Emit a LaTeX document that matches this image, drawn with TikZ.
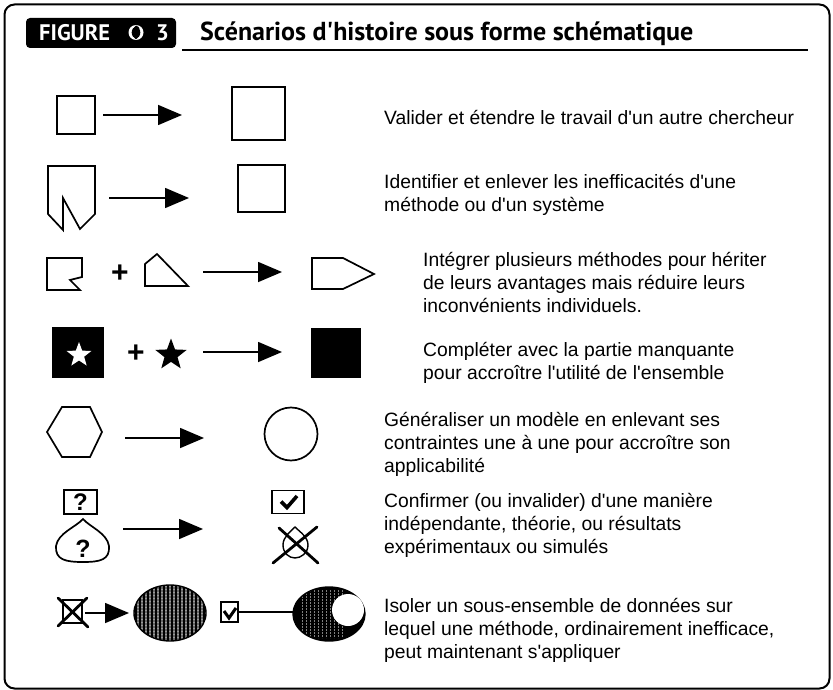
\documentclass[tikz,border=0pt]{standalone}
\usepackage{fontspec}
\setmainfont{Liberation Sans}
\newfontfamily\headfont{PT Sans}
\usetikzlibrary{arrows.meta,shapes.geometric}
% a block of lines whose reference point is the first baseline
\newcommand{\lines}[1]{\begin{tabular}[t]{@{}l@{}}#1\end{tabular}}

\begin{document}
\begin{tikzpicture}[x=1pt,y=-1pt,
  outline/.style={draw=black,line width=1.7pt,line join=miter},
  link/.style={line width=1.6pt,-{Triangle[length=24pt,width=20pt]}},
  caption/.style={anchor=base west,inner sep=0pt,
    font=\fontsize{19.3}{23}\selectfont},
  sign/.style={inner sep=0pt,font=\bfseries\fontsize{30}{30}\selectfont},
  qmark/.style={inner sep=0pt,font=\bfseries\fontsize{25}{25}\selectfont},
  tick/.style={line width=3.6pt,line cap=butt,line join=miter},
  cross/.style={line width=2.8pt,line cap=round},
  headtext/.style={anchor=base west,inner sep=0pt,text=white,
    font=\headfont\bfseries\fontsize{22.5}{24}\selectfont}]

\useasboundingbox (0,0) rectangle (833,690);

% outer frame
\draw[line width=2pt,rounded corners=10pt] (4.5,4.5) rectangle (829.5,688.5);

% heading
\fill[black,rounded corners=4pt] (26,18) rectangle (176,48);
\node[headtext] (figword) at (39,40.5) {FIGURE};
\fill[white] (136,32.5) circle (7.5);
\fill[black] (136,32.5) .. controls (140.5,28) and (140.5,37) .. (136,39.5)
  .. controls (131.5,37) and (131.5,28) .. (136,25.5)
  .. controls (140.5,28) .. cycle;
\fill[black] (136,32.5) ellipse (4.3 and 5.8);
\node[headtext] (fignum) at (156,40.5) {3};
\node[anchor=base west,inner sep=0pt,font=\headfont\bfseries\fontsize{26}{28}\selectfont]
  (title) at (200,41) {Scénarios d\textquotesingle histoire sous forme schématique};
\draw[line width=1.5pt] (182,50) -- (808,50);

% row 1: square -> bigger square
\draw[outline] (57,96) rectangle (95,134);
\coordinate (a1s) at (103,115); \coordinate (a1e) at (182,115);
\draw[link] (a1s) -- (a1e);
\draw[outline] (232,87) rectangle (285,140);
\node[caption] (t1) at (384,125)
  {Valider et étendre le travail d\textquotesingle un autre chercheur};

% row 2: notched shape -> square
\draw[outline] (48,166) -- (95,166) -- (95,214) -- (80,229) -- (63,198)
  -- (63,230) -- (48,214) -- cycle;
\coordinate (a2s) at (109,198); \coordinate (a2e) at (189,198);
\draw[link] (a2s) -- (a2e);
\draw[outline] (238,165) rectangle (285,212);
\node[caption] (t2) at (384,189)
  {\lines{Identifier et enlever les inefficacités d\textquotesingle une\\
   méthode ou d\textquotesingle un système}};

% row 3: two partial shapes -> pentagon
\draw[outline] (47,258) -- (82,258) -- (82,277) -- (70,280) -- (80,290)
  -- (47,290) -- cycle;
\node[sign] (plus3) at (120,274) {+};
\draw[outline] (145,286) -- (145,264) -- (157,254) -- (188,286) -- cycle;
\coordinate (a3s) at (203,272); \coordinate (a3e) at (282,272);
\draw[link] (a3s) -- (a3e);
\draw[outline] (312,258) -- (343,258) -- (374,274) -- (343,289) -- (312,289) -- cycle;
\node[caption] (t3) at (423,266)
  {\lines{Intégrer plusieurs méthodes pour hériter\\
   de leurs avantages mais réduire leurs\\
   inconvénients individuels.}};

% row 4: square with star hole + star -> full square
\fill[black] (52,327) rectangle (104,378);
\node[star,star points=5,star point ratio=2.4,fill=white,minimum size=26pt,
  inner sep=0pt] (wstar) at (79,355) {};
\node[sign] (plus4) at (136,354) {+};
\node[star,star points=5,star point ratio=2.4,fill=black,minimum size=33pt,
  inner sep=0pt] (bstar) at (171,355) {};
\coordinate (a4s) at (203,352); \coordinate (a4e) at (282,352);
\draw[link] (a4s) -- (a4e);
\fill[black] (311,328) rectangle (361,378);
\node[caption] (t4) at (423,356)
  {\lines{Compléter avec la partie manquante\\
   pour accroître l\textquotesingle utilité de l\textquotesingle ensemble}};

% row 5: hexagon -> circle
\draw[outline] (47,432) -- (62,407) -- (90,407) -- (102,432) -- (90,457)
  -- (62,457) -- cycle;
\coordinate (a5s) at (125,438); \coordinate (a5e) at (204,438);
\draw[link] (a5s) -- (a5e);
\node[circle,draw,line width=1.7pt,minimum size=53pt,inner sep=0pt] (ring) at (291,434) {};
\node[caption] (t5) at (384,426)
  {\lines{Généraliser un modèle en enlevant ses\\
   contraintes une à une pour accroître son\\
   applicabilité}};

% row 6: questions -> confirmed / rejected
\node[draw,line width=1.7pt,minimum width=33pt,minimum height=24pt,inner sep=0pt,
  font=\bfseries\fontsize{24}{24}\selectfont] (qbox) at (80.5,502) {?};
\draw[outline] (83,519) .. controls (76,527) and (58,533) .. (56,546)
  .. controls (55,560) and (66,562) .. (83,562)
  .. controls (100,562) and (110,560) .. (109,546)
  .. controls (107,533) and (90,527) .. (83,519) -- cycle;
\node[qmark] (qdrop) at (83,549) {?};
\coordinate (a6s) at (123,529); \coordinate (a6e) at (203,529);
\draw[link] (a6s) -- (a6e);
\node[draw,line width=1.7pt,minimum width=32pt,minimum height=23pt,inner sep=0pt]
  (okbox) at (288,502) {};
\draw[tick] (281,501.5) -- (287,507.5) -- (297,496);
\draw[line width=1.4pt] (295,527) .. controls (290,532) and (283,537) .. (283,545)
  .. controls (283,553) and (289,558) .. (295,558)
  .. controls (301,558) and (308,553) .. (308,545)
  .. controls (308,537) and (300,532) .. (295,527) -- cycle;
\draw[cross] (279,528) -- (318,563);
\draw[cross] (317,527) -- (273,563);
\node[caption] (t6) at (384,507)
  {\lines{Confirmer (ou invalider) d\textquotesingle une manière\\
   indépendante, théorie, ou résultats\\
   expérimentaux ou simulés}};

% row 7: isolate a subset
\draw[line width=1.6pt] (63,600) rectangle (82,623);
\draw[cross] (58,598) -- (88,627);
\draw[cross] (87,598) -- (58,626);
\coordinate (a7s) at (85,613); \coordinate (a7e) at (129,613);
\draw[link] (a7s) -- (a7e);
\begin{scope}
  \clip (170,613) ellipse [x radius=36,y radius=28];
  \fill[black!60] (133,584) rectangle (207,642);
  \foreach \yy in {586,589,...,641}
    \draw[line width=0.6pt,black!40] (133,\yy) -- (207,\yy);
  \foreach \xx in {136,140,...,206}
    \draw[line width=1.2pt,black] (\xx,584) -- (\xx,642);
\end{scope}
\draw[line width=1.4pt] (170,613) ellipse [x radius=36,y radius=28];
\node[draw,line width=1.6pt,minimum width=17pt,minimum height=20pt,inner sep=0pt]
  (okbox7) at (229.5,612) {};
\draw[line width=3pt,line join=miter] (224,611) -- (229,618) -- (236,608);
\begin{scope}
  \clip (329,614) ellipse [x radius=36,y radius=27];
  \fill[black] (292,586) rectangle (366,642);
  \foreach \xx in {302,306,...,342}
    \draw[line width=1pt,black!50,dash pattern=on 2pt off 1pt] (\xx,590) -- (\xx,638);
\end{scope}
\draw[line width=1.4pt] (329,614) ellipse [x radius=36,y radius=27];
\node[circle,fill=white,minimum size=32pt,inner sep=0pt] (hole) at (348,610) {};
\coordinate (l7e) at (293,612);
\draw[line width=1.6pt] (okbox7.east) -- (l7e);
\node[caption] (t7) at (384,612)
  {\lines{Isoler un sous-ensemble de données sur\\
   lequel une méthode, ordinairement inefficace,\\
   peut maintenant s\textquotesingle appliquer}};

\end{tikzpicture}
\end{document}
